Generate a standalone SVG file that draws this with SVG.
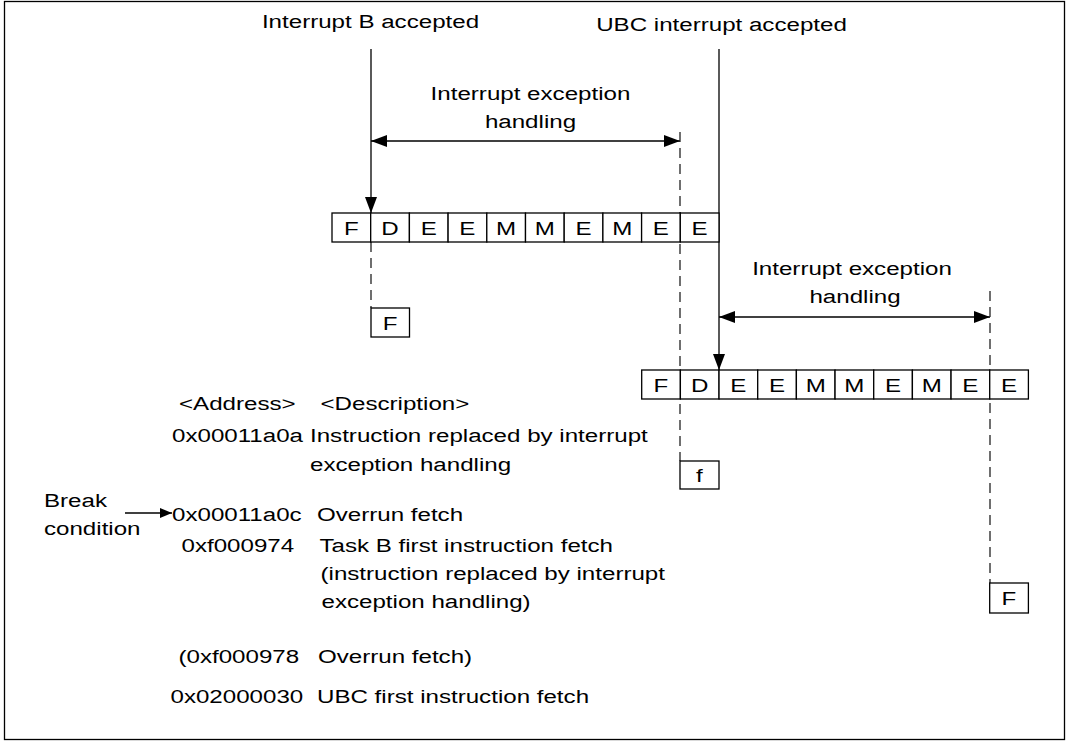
<svg xmlns="http://www.w3.org/2000/svg" width="1071" height="741" viewBox="0 0 1071 741">
<style>
text{font-family:"Liberation Sans",Arial,sans-serif;font-size:19px;fill:#000;transform-box:fill-box;}
.s{text-anchor:start;transform-origin:0 0;transform:scaleX(1.27);}
.m{text-anchor:middle;transform-origin:50% 50%;transform:scaleX(1.27);}
.cell{fill:#fff;stroke:#000;stroke-width:1.3;}
.ln{stroke:#000;stroke-width:1.3;fill:none;}
.dash{stroke:#222;stroke-width:1.3;fill:none;stroke-dasharray:10 6;}
</style>
<defs>
<marker id="ah" viewBox="0 0 16 12" refX="16" refY="6" markerWidth="16" markerHeight="12" markerUnits="userSpaceOnUse" orient="auto-start-reverse">
<path d="M0,0 L16,6 L0,12 Z" fill="#000"/>
</marker>
<marker id="ahs" viewBox="0 0 12 10" refX="12" refY="5" markerWidth="12" markerHeight="10" markerUnits="userSpaceOnUse" orient="auto">
<path d="M0,0 L12,5 L0,10 Z" fill="#000"/>
</marker>
</defs>
<rect x="4.5" y="1.5" width="1060" height="738" fill="#fff" stroke="#000" stroke-width="1.3"/>

<g id="connectors">
<line class="ln" x1="371" y1="49" x2="371" y2="213" marker-end="url(#ah)"/>
<line class="ln" x1="719" y1="49" x2="719" y2="370" marker-end="url(#ah)"/>
<line class="ln" x1="371" y1="141" x2="680" y2="141" marker-start="url(#ah)" marker-end="url(#ah)"/>
<line class="ln" x1="719" y1="317" x2="990" y2="317" marker-start="url(#ah)" marker-end="url(#ah)"/>
<line class="dash" x1="680" y1="132" x2="680" y2="461"/>
<line class="dash" x1="371" y1="242" x2="371" y2="308"/>
<line class="dash" x1="990" y1="291" x2="990" y2="583"/>
<line class="ln" x1="125" y1="513" x2="172" y2="513" marker-end="url(#ahs)"/>
</g>

<g id="label-interruptB"><text class="m" x="370.5" y="28">Interrupt B accepted</text></g>
<g id="label-ubc"><text class="m" x="721.5" y="31">UBC interrupt accepted</text></g>
<g id="label-ieh1"><text class="m" x="530.5" y="100">Interrupt exception</text><text class="m" x="530.5" y="128">handling</text></g>
<g id="label-ieh2"><text class="m" x="852" y="275">Interrupt exception</text><text class="m" x="855" y="303">handling</text></g>

<g id="pipeline1">
<rect class="cell" x="332" y="213" width="38.7" height="29"/>
<rect class="cell" x="370.7" y="213" width="38.7" height="29"/>
<rect class="cell" x="409.4" y="213" width="38.7" height="29"/>
<rect class="cell" x="448.1" y="213" width="38.7" height="29"/>
<rect class="cell" x="486.8" y="213" width="38.7" height="29"/>
<rect class="cell" x="525.5" y="213" width="38.7" height="29"/>
<rect class="cell" x="564.2" y="213" width="38.7" height="29"/>
<rect class="cell" x="602.9" y="213" width="38.7" height="29"/>
<rect class="cell" x="641.6" y="213" width="38.7" height="29"/>
<rect class="cell" x="680.3" y="213" width="38.7" height="29"/>
<text class="m" x="351.3" y="235">F</text>
<text class="m" x="390" y="235">D</text>
<text class="m" x="428.7" y="235">E</text>
<text class="m" x="467.4" y="235">E</text>
<text class="m" x="506.1" y="235">M</text>
<text class="m" x="544.8" y="235">M</text>
<text class="m" x="583.5" y="235">E</text>
<text class="m" x="622.2" y="235">M</text>
<text class="m" x="660.9" y="235">E</text>
<text class="m" x="699.6" y="235">E</text>
</g>

<g id="pipeline2">
<rect class="cell" x="641.7" y="370" width="38.67" height="29"/>
<rect class="cell" x="680.37" y="370" width="38.67" height="29"/>
<rect class="cell" x="719.04" y="370" width="38.67" height="29"/>
<rect class="cell" x="757.71" y="370" width="38.67" height="29"/>
<rect class="cell" x="796.38" y="370" width="38.67" height="29"/>
<rect class="cell" x="835.05" y="370" width="38.67" height="29"/>
<rect class="cell" x="873.72" y="370" width="38.67" height="29"/>
<rect class="cell" x="912.39" y="370" width="38.67" height="29"/>
<rect class="cell" x="951.06" y="370" width="38.67" height="29"/>
<rect class="cell" x="989.73" y="370" width="38.67" height="29"/>
<text class="m" x="661" y="392">F</text>
<text class="m" x="699.7" y="392">D</text>
<text class="m" x="738.4" y="392">E</text>
<text class="m" x="777" y="392">E</text>
<text class="m" x="815.7" y="392">M</text>
<text class="m" x="854.4" y="392">M</text>
<text class="m" x="893" y="392">E</text>
<text class="m" x="931.7" y="392">M</text>
<text class="m" x="970.4" y="392">E</text>
<text class="m" x="1009" y="392">E</text>
</g>

<g id="fetch-F1"><rect class="cell" x="371" y="308" width="38.5" height="29"/><text class="m" x="390.2" y="330">F</text></g>
<g id="fetch-f"><rect class="cell" x="680" y="461" width="39" height="28"/><text class="m" x="699.5" y="482">f</text></g>
<g id="fetch-F2"><rect class="cell" x="989.7" y="583" width="38.7" height="30"/><text class="m" x="1009" y="605">F</text></g>

<g id="table">
<text class="s" x="179" y="410">&lt;Address&gt;</text>
<text class="s" x="320.5" y="410">&lt;Description&gt;</text>
<text class="s" x="172" y="442">0x00011a0a</text>
<text class="s" x="310" y="442">Instruction replaced by interrupt</text>
<text class="s" x="310" y="471">exception handling</text>
<text class="s" x="172" y="521">0x00011a0c</text>
<text class="s" x="317" y="521">Overrun fetch</text>
<text class="s" x="181.5" y="552">0xf000974</text>
<text class="s" x="319.5" y="552">Task B first instruction fetch</text>
<text class="s" x="320.5" y="580">(instruction replaced by interrupt</text>
<text class="s" x="321.5" y="608">exception handling)</text>
<text class="s" x="178.5" y="663">(0xf000978</text>
<text class="s" x="318" y="663">Overrun fetch)</text>
<text class="s" x="170.5" y="703">0x02000030</text>
<text class="s" x="317" y="703">UBC first instruction fetch</text>
</g>

<g id="break-condition">
<text class="s" x="44" y="507">Break</text>
<text class="s" x="44" y="535">condition</text>
</g>
</svg>
